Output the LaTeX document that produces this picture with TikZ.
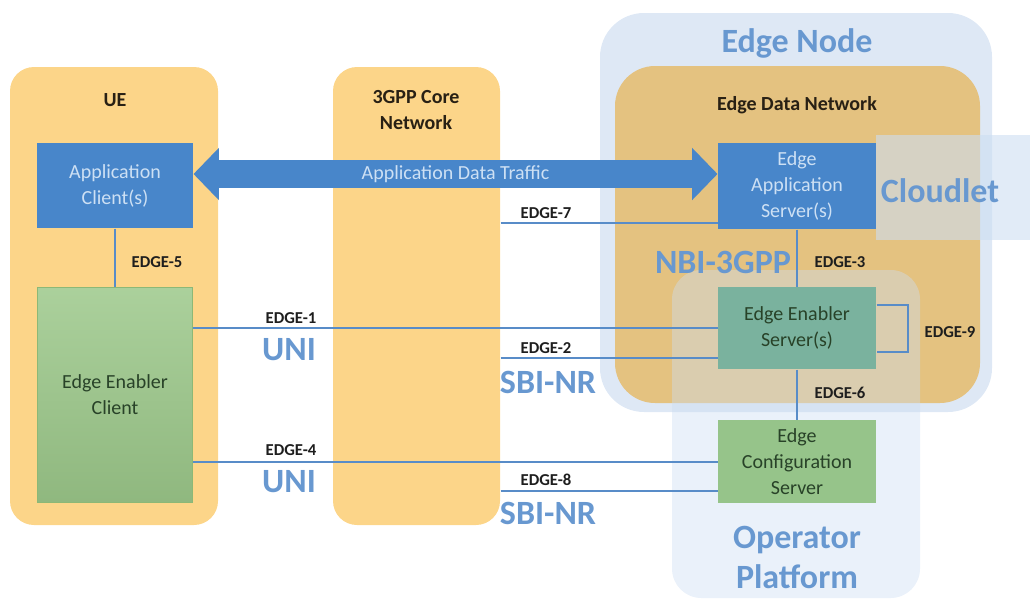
\documentclass[tikz,border=0pt]{standalone}
\usepackage{fontspec}
\setmainfont{Carlito}
\usetikzlibrary{arrows.meta}

\definecolor{colfill}{RGB}{252,213,137}
\definecolor{nodeblue}{RGB}{222,232,245}
\definecolor{ednfill}{RGB}{228,194,128}
\definecolor{platblue}{RGB}{205,222,242}
\definecolor{boxblue}{RGB}{72,134,202}
\definecolor{boxtext}{RGB}{205,224,244}
\definecolor{eecgreen}{RGB}{156,200,138}
\definecolor{eesteal}{RGB}{122,178,158}
\definecolor{ecsgreen}{RGB}{150,196,138}
\definecolor{greentext}{RGB}{40,66,40}
\definecolor{linkblue}{RGB}{88,140,200}
\definecolor{lblblue}{RGB}{104,152,208}

\tikzset{every picture/.style={line width=0.75pt}}
\tikzset{
  column/.style={draw=none, fill=colfill, rounded corners=18pt, inner sep=0pt},
  bluebox/.style={draw=none, fill=boxblue, text=boxtext, align=center, inner sep=0pt,
    font=\fontsize{15}{19.5}\selectfont},
  greenbox/.style={draw=none, text=greentext, align=center, inner sep=0pt,
    font=\fontsize{15}{19.5}\selectfont},
  link/.style={draw=linkblue, line width=1.5pt},
  traffic/.style={draw=boxblue, line width=21pt,
    {Triangle[length=19pt, width=38pt]}-{Triangle[length=19pt, width=38pt]}},
  edgelbl/.style={inner sep=0.75pt, text={rgb,255:red,30;green,30;blue,30},
    font=\fontsize{12.5}{14}\selectfont\bfseries},
  biglbl/.style={inner sep=0.75pt, text=lblblue, align=center,
    font=\fontsize{25.5}{30}\selectfont\bfseries},
  titlelbl/.style={inner sep=0.75pt, text={rgb,255:red,40;green,32;blue,20}, align=center,
    font=\fontsize{15}{19}\selectfont\bfseries}
}

\begin{document}
\begin{tikzpicture}[x=0.75pt,y=0.75pt,yscale=-1,xscale=1]
	\useasboundingbox (0,0) rectangle (1030,600);
	
	%Shape: Rounded Rect [Edge Node]
	\draw [draw=none, fill=nodeblue, rounded corners=33pt] (600,13) rectangle (992,412);
	%Shape: Rounded Rect [Edge Data Network]
	\draw [draw=none, fill=ednfill, rounded corners=30pt] (615,66) rectangle (980,403);
	%Shape: Rounded Rect [Operator Platform]
	\draw [draw=none, fill=platblue, fill opacity=0.42, rounded corners=22pt] (672,270) rectangle (920,598);
	%Shape: Rectangle [Cloudlet]
	\draw [draw=none, fill=platblue, fill opacity=0.6] (876,135) rectangle (1030,240);
	
	%Shape: Rounded Rect [UE, 3GPP Core]
	\node [column, minimum width=156pt, minimum height=343.5pt] (ue) at (114,296) {};
	\node [column, minimum width=125.25pt, minimum height=343.5pt] (core) at (416.5,296) {};
	
	%Boxes
	\node [bluebox, minimum width=117pt, minimum height=63.75pt] (ac) at (115,185.5) {Application\\Client(s)};
	\node [greenbox, draw={rgb,255:red,140;green,184;blue,118}, line width=1.2pt, top color=eecgreen!85!white, bottom color=eecgreen!92!black, minimum width=116pt, minimum height=161pt] (eec) at (115,395) {Edge Enabler\\Client};
	\node [bluebox, minimum width=118.5pt, minimum height=64.5pt] (eas) at (797,186) {Edge\\Application\\Server(s)};
	\node [greenbox, fill=eesteal, minimum width=118.5pt, minimum height=61.5pt] (ees) at (797,328) {Edge Enabler\\Server(s)};
	\node [greenbox, fill=ecsgreen, minimum width=118.5pt, minimum height=62.25pt] (ecs) at (797,461.5) {Edge\\Configuration\\Server};
	
	%Connectors
	\draw [traffic] (ac.east |- 0,174) -- (eas.west |- 0,174) node [midway, inner sep=0.75pt, text=boxtext, font=\fontsize{15}{18}\selectfont] (adt) {Application Data Traffic};
	\draw [link] (ac.south) -- (eec.north);
	\draw [link] (core.east |- 0,223) -- (eas.west |- 0,223);
	\draw [link] (eas.south) -- (ees.north);
	\draw [link] (eec.east |- 0,328) -- (ees.west |- 0,328);
	\draw [link] (core.east |- 0,358) -- (ees.west |- 0,358);
	\draw [link] (ees.east |- 0,305) -- (908,305) -- (908,352) -- (ees.east |- 0,352);
	\draw [link] (ees.south) -- (ecs.north);
	\draw [link] (eec.east |- 0,462) -- (ecs.west |- 0,462);
	\draw [link] (core.east |- 0,491) -- (ecs.west |- 0,491);
	
	%Titles
	\draw (115,100) node [titlelbl] (uelbl) {UE};
	\draw (416,110) node [titlelbl] (corelbl) {3GPP Core\\Network};
	\draw (797,105) node [titlelbl] (ednlbl) {Edge Data Network};
	\draw (797,43) node [biglbl] (enlbl) {Edge Node};
	\draw (940,191) node [biglbl] (cllbl) {Cloudlet};
	\draw (797,557) node [biglbl] (oplbl) {Operator\\Platform};
	\draw (723,262) node [biglbl] (nbilbl) {NBI-3GPP};
	\draw (289,350) node [biglbl] (uni1) {UNI};
	\draw (289,482) node [biglbl] (uni2) {UNI};
	\draw (548,382) node [biglbl] (sbi1) {SBI-NR};
	\draw (548,513) node [biglbl] (sbi2) {SBI-NR};
	
	%Edge labels
	\draw (157,262) node [edgelbl] (l5) {EDGE-5};
	\draw (546,213) node [edgelbl] (l7) {EDGE-7};
	\draw (291,318) node [edgelbl] (l1) {EDGE-1};
	\draw (546,348) node [edgelbl] (l2) {EDGE-2};
	\draw (291,450) node [edgelbl] (l4) {EDGE-4};
	\draw (546,480) node [edgelbl] (l8) {EDGE-8};
	\draw (840,262) node [edgelbl] (l3) {EDGE-3};
	\draw (840,393) node [edgelbl] (l6) {EDGE-6};
	\draw (950,332) node [edgelbl] (l9) {EDGE-9};
	
\end{tikzpicture}
\end{document}
